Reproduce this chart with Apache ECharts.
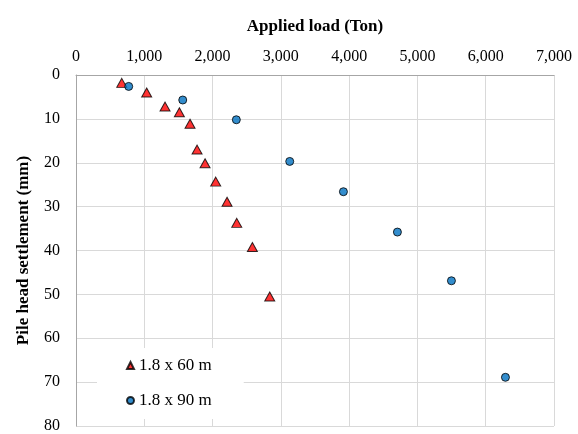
<!DOCTYPE html>
<html>
<head>
<meta charset="utf-8">
<script src="https://cdn.jsdelivr.net/npm/echarts@6/dist/echarts.min.js"></script>
<style>html,body{margin:0;padding:0;background:#fff}#c{width:578px;height:434px}</style>
</head>
<body>
<div id="c"></div>
<script>
var seriesNames = ['1.8 x 60 m', '1.8 x 90 m'];
var load60 = [670, 1035, 1304, 1514, 1670, 1773, 1890, 2046, 2212, 2354, 2583, 2837];
var settle60 = [1.8, 4.0, 7.2, 8.5, 11.1, 17.0, 20.1, 24.3, 28.9, 33.7, 39.2, 50.5];
var load90 = [772, 1563, 2348, 3130, 3916, 4707, 5498, 6289];
var settle90 = [2.6, 5.7, 10.2, 19.7, 26.6, 35.8, 46.9, 68.9];
var xTitle = 'Applied load (Ton)';
var yTitle = 'Pile head settlement (mm)';

function pairs(xs, ys) { return xs.map(function (x, i) { return [x, ys[i]]; }); }
var font = 'Liberation Serif';
var chart = echarts.init(document.getElementById('c'));
chart.setOption({
  animation: false,
  backgroundColor: '#fff',
  grid: { left: 76, right: 24, top: 75, bottom: 6 },
  xAxis: {
    type: 'value', position: 'top', min: 0, max: 7000, interval: 1000,
    name: xTitle, nameLocation: 'middle', nameGap: 40,
    nameTextStyle: { fontFamily: font, fontWeight: 'bold', fontSize: 17, color: '#000' },
    axisLine: { show: true, lineStyle: { color: '#a6a6a6', width: 1 } },
    axisTick: { show: false },
    axisLabel: { fontFamily: font, fontSize: 16, color: '#000', margin: 10,
      formatter: function (v) { return v.toLocaleString('en-US'); } },
    splitLine: { show: true, lineStyle: { color: '#d9d9d9', width: 1 } }
  },
  yAxis: {
    type: 'value', inverse: true, min: 0, max: 80, interval: 10,
    name: yTitle, nameLocation: 'middle', nameGap: 44, nameRotate: 90,
    nameTextStyle: { fontFamily: font, fontWeight: 'bold', fontSize: 17, color: '#000' },
    axisLine: { show: true, lineStyle: { color: '#a6a6a6', width: 1 } },
    axisTick: { show: false },
    axisLabel: { fontFamily: font, fontSize: 16, color: '#000', margin: 16, padding: [3, 0, 0, 0] },
    splitLine: { show: true, lineStyle: { color: '#d9d9d9', width: 1 } }
  },
  legend: {
    orient: 'vertical', left: 97, top: 348, width: 146,
    backgroundColor: '#fff', padding: [9, 32, 10, 29], itemGap: 18,
    itemWidth: 7, itemHeight: 7,
    textStyle: { fontFamily: font, fontSize: 17, color: '#000' },
    data: [
      { name: seriesNames[0], icon: 'triangle' },
      { name: seriesNames[1], icon: 'circle' }
    ]
  },
  series: [
    { name: seriesNames[0], type: 'scatter', symbol: 'triangle', symbolSize: [10, 9],
      itemStyle: { color: '#ff0000', borderColor: '#000', borderWidth: 1 },
      data: pairs(load60, settle60) },
    { name: seriesNames[1], type: 'scatter', symbol: 'circle', symbolSize: 8,
      itemStyle: { color: '#0070c0', borderColor: '#000', borderWidth: 1 },
      data: pairs(load90, settle90) }
  ]
});
</script>
</body>
</html>
